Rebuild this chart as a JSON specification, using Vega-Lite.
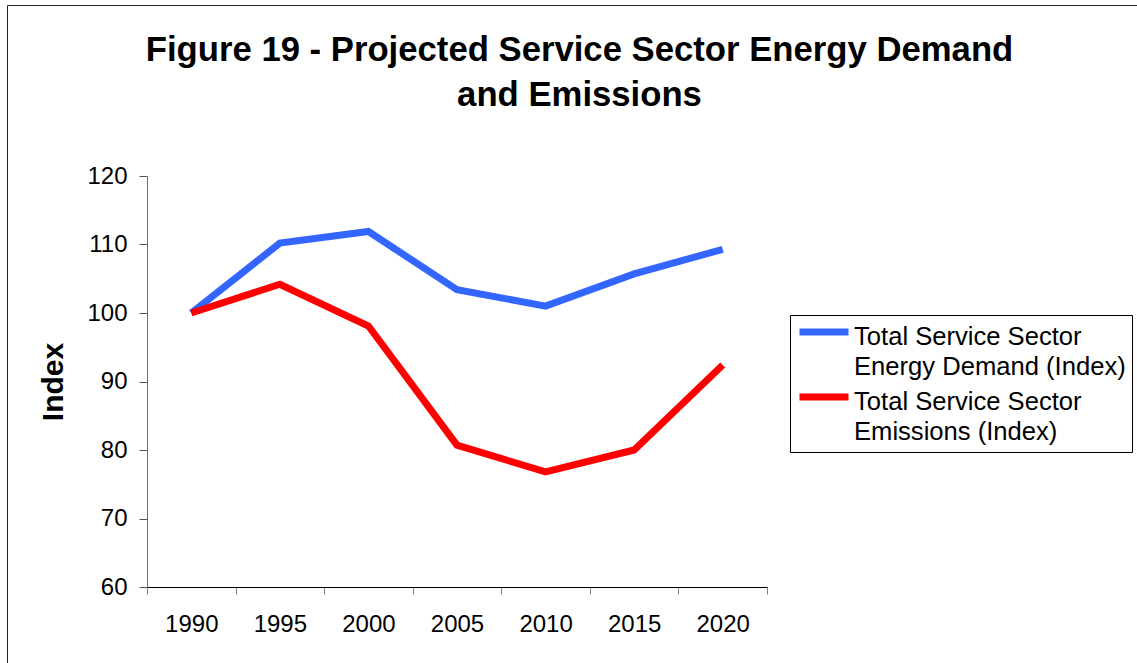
{
  "$schema": "https://vega.github.io/schema/vega-lite/v6.json",
  "autosize": {"type": "none"},
  "padding": {"left": 7, "top": 5, "right": 0, "bottom": 0},
  "width": 1131,
  "height": 658,
  "background": "#ffffff",
  "config": {
    "view": {"stroke": "#222222", "strokeWidth": 1},
    "font": "Liberation Sans"
  },
  "title": {
    "text": ["Figure 19 - Projected Service Sector Energy Demand", "and Emissions"],
    "anchor": "middle",
    "frame": "group",
    "font": "Liberation Sans",
    "fontSize": 34.7,
    "fontWeight": "bold",
    "color": "#000000",
    "lineHeight": 45,
    "offset": -109,
    "dx": 7
  },
  "data": {
    "values": [
      {"year": "1990", "series": "Total Service Sector Energy Demand (Index)", "index": 100.0},
      {"year": "1995", "series": "Total Service Sector Energy Demand (Index)", "index": 110.2},
      {"year": "2000", "series": "Total Service Sector Energy Demand (Index)", "index": 111.9},
      {"year": "2005", "series": "Total Service Sector Energy Demand (Index)", "index": 103.4},
      {"year": "2010", "series": "Total Service Sector Energy Demand (Index)", "index": 101.0},
      {"year": "2015", "series": "Total Service Sector Energy Demand (Index)", "index": 105.7},
      {"year": "2020", "series": "Total Service Sector Energy Demand (Index)", "index": 109.3},
      {"year": "1990", "series": "Total Service Sector Emissions (Index)", "index": 100.0},
      {"year": "1995", "series": "Total Service Sector Emissions (Index)", "index": 104.2},
      {"year": "2000", "series": "Total Service Sector Emissions (Index)", "index": 98.1},
      {"year": "2005", "series": "Total Service Sector Emissions (Index)", "index": 80.7},
      {"year": "2010", "series": "Total Service Sector Emissions (Index)", "index": 76.8},
      {"year": "2015", "series": "Total Service Sector Emissions (Index)", "index": 80.0},
      {"year": "2020", "series": "Total Service Sector Emissions (Index)", "index": 92.4}
    ]
  },
  "mark": {"type": "line", "strokeWidth": 7, "strokeCap": "butt", "strokeJoin": "miter"},
  "encoding": {
    "x": {
      "field": "year",
      "type": "ordinal",
      "bandPosition": 0.5,
      "scale": {"type": "band", "range": [140, 760], "paddingInner": 0, "paddingOuter": 0},
      "axis": {
        "title": null,
        "orient": "bottom",
        "offset": -76,
        "tickBand": "extent",
        "tickSize": 7,
        "tickColor": "#808080",
        "domainColor": "#000000",
        "labelAngle": 0,
        "labelPadding": 18,
        "labelFont": "Liberation Sans",
        "labelFontSize": 24,
        "labelColor": "#000000",
        "grid": false
      }
    },
    "y": {
      "field": "index",
      "type": "quantitative",
      "scale": {"domain": [60, 120], "range": [582, 171], "nice": false, "zero": false},
      "axis": {
        "title": "Index",
        "orient": "left",
        "offset": -140,
        "values": [60, 70, 80, 90, 100, 110, 120],
        "tickSize": 8,
        "tickColor": "#555555",
        "domainColor": "#707070",
        "labelPadding": 12,
        "labelFont": "Liberation Sans",
        "labelFontSize": 24,
        "labelColor": "#000000",
        "titleFont": "Liberation Sans",
        "titleFontSize": 30,
        "titleFontWeight": "bold",
        "titleColor": "#000000",
        "titlePadding": 18,
        "grid": false
      }
    },
    "color": {
      "field": "series",
      "type": "nominal",
      "scale": {
        "domain": ["Total Service Sector Energy Demand (Index)", "Total Service Sector Emissions (Index)"],
        "range": ["#3366ff", "#ff0000"]
      },
      "legend": {
        "title": null,
        "orient": "none",
        "legendX": 783,
        "legendY": 310,
        "strokeColor": "#000000",
        "fillColor": "#ffffff",
        "padding": 6,
        "clipHeight": 22,
        "symbolType": "stroke",
        "symbolSize": 2401,
        "symbolStrokeWidth": 7,
        "labelFont": "Liberation Sans",
        "labelFontSize": 25.6,
        "labelColor": "#000000",
        "labelOffset": 2,
        "labelLimit": 400,
        "labelBaseline": "top",
        "rowPadding": 5,
        "labelExpr": "['Total Service Sector', replace(datum.label, 'Total Service Sector ', '')]",
        "encode": {"labels": {"update": {"lineHeight": {"value": 30}, "dy": {"value": -7}}}}
      }
    }
  }
}
